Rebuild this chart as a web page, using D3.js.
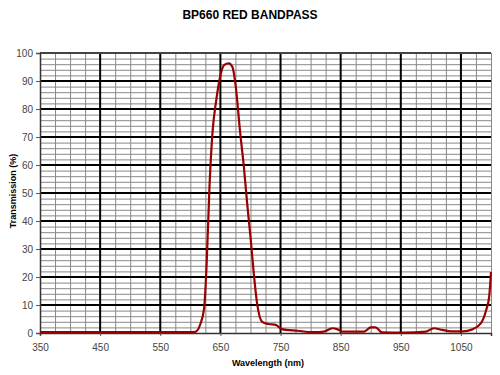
<!DOCTYPE html>
<html>
<head>
<meta charset="utf-8">
<script src="https://cdn.jsdelivr.net/npm/d3@7"></script>
<style>
  body { margin: 0; background: #fff; }
  .chart text { font-family: "Liberation Sans", Arial, sans-serif; }
</style>
</head>
<body>
<svg class="chart"></svg>
<script>
// data
const WAVELENGTH = [350, 400, 450, 500, 550, 600, 608, 617, 623, 627, 632, 637, 643, 650, 656, 664, 670, 675,
  683, 689, 694.5, 700, 705.5, 711, 719.5, 730, 742, 752, 778, 805, 822, 836, 845, 853, 889, 900, 908, 919,
  955, 992, 1005, 1019, 1033, 1053, 1069, 1083, 1092, 1097, 1100];
const TRANSMISSION = [0.3, 0.3, 0.3, 0.3, 0.3, 0.3, 0.4, 3.4, 9, 24, 53, 72, 83, 92, 95.7, 96.3, 95, 89,
  71.3, 59.4, 46.3, 34.4, 21.3, 10.6, 4, 3.2, 2.9, 1.4, 0.8, 0.3, 0.5, 1.7, 1.3, 0.5, 0.5, 2.0, 2.0, 0.2,
  0.1, 0.5, 1.7, 1.1, 0.6, 0.6, 1.3, 3.4, 8.2, 13, 21.8];
const X_TICKS = [350, 450, 550, 650, 750, 850, 950, 1050];
const Y_TICKS = [0, 10, 20, 30, 40, 50, 60, 70, 80, 90, 100];

const WIDTH = 500, HEIGHT = 375;
const MARGINS = { top: 53, right: 9, bottom: 42, left: 40 };
const PLOT_W = WIDTH - MARGINS.left - MARGINS.right;
const PLOT_H = HEIGHT - MARGINS.top - MARGINS.bottom;

const svg = d3.select(".chart").attr("width", WIDTH).attr("height", HEIGHT);

const X_fxn = d3.scaleLinear().domain([350, 1100]).range([0, PLOT_W]);
const Y_fxn = d3.scaleLinear().domain([0, 100]).range([PLOT_H, 0]);

const g = svg.append("g").attr("transform", `translate(${MARGINS.left},${MARGINS.top})`);

// minor grid
g.append("g").selectAll("line").data(d3.range(375, 1100, 25).filter(v => v % 100 !== 50))
  .join("line")
  .attr("x1", d => X_fxn(d) + 0.5).attr("x2", d => X_fxn(d) + 0.5)
  .attr("y1", 0).attr("y2", PLOT_H)
  .attr("stroke", "#888").attr("stroke-width", 1);
g.append("g").selectAll("line").data(d3.range(2, 100, 2).filter(v => v % 10 !== 0))
  .join("line")
  .attr("y1", d => Y_fxn(d) + 0.5).attr("y2", d => Y_fxn(d) + 0.5)
  .attr("x1", 0).attr("x2", PLOT_W)
  .attr("stroke", "#888").attr("stroke-width", 1);

// major grid
g.append("g").selectAll("line").data(X_TICKS.slice(1))
  .join("line")
  .attr("x1", d => X_fxn(d)).attr("x2", d => X_fxn(d))
  .attr("y1", 0).attr("y2", PLOT_H)
  .attr("stroke", "#000").attr("stroke-width", 2);
g.append("g").selectAll("line").data(Y_TICKS.slice(1, -1))
  .join("line")
  .attr("y1", d => Y_fxn(d)).attr("y2", d => Y_fxn(d))
  .attr("x1", 0).attr("x2", PLOT_W)
  .attr("stroke", "#000").attr("stroke-width", 2);

// frame
g.append("line").attr("x1", 0).attr("x2", PLOT_W).attr("y1", 0).attr("y2", 0)
  .attr("stroke", "#444").attr("stroke-width", 2);
g.append("line").attr("x1", PLOT_W + 0.5).attr("x2", PLOT_W + 0.5).attr("y1", 0).attr("y2", PLOT_H)
  .attr("stroke", "#888");

// axes
const xAxis = g.append("g").attr("transform", `translate(0,${PLOT_H})`)
  .call(d3.axisBottom(X_fxn).tickValues(X_TICKS).tickFormat(d3.format("d")).tickSize(3).tickPadding(8));
const yAxis = g.append("g")
  .call(d3.axisLeft(Y_fxn).tickValues(Y_TICKS).tickSize(4).tickPadding(3));
[xAxis, yAxis].forEach(a => {
  a.select(".domain").attr("stroke", "#333").attr("stroke-width", 1.5);
  a.selectAll(".tick line").attr("stroke", "#555");
  a.selectAll(".tick text").attr("fill", "#444").style("font-size", "10px");
});

// curve
const line_fxn = d3.line()
  .x((d, i) => X_fxn(WAVELENGTH[i]))
  .y(d => Y_fxn(d))
  .curve(d3.curveMonotoneX);
g.append("path").datum(TRANSMISSION)
  .attr("fill", "none").attr("stroke", "#990000").attr("stroke-width", 2.2)
  .attr("d", line_fxn);

// titles
svg.append("text").attr("x", 250).attr("y", 19).attr("text-anchor", "middle")
  .style("font-size", "12px").style("font-weight", "bold").text("BP660 RED BANDPASS");
svg.append("text").attr("x", 268).attr("y", 366).attr("text-anchor", "middle")
  .style("font-size", "9px").style("font-weight", "bold").text("Wavelength (nm)");
svg.append("text").attr("transform", `translate(16,${MARGINS.top + PLOT_H / 2 - 2}) rotate(-90)`)
  .attr("text-anchor", "middle")
  .style("font-size", "9px").style("font-weight", "bold").text("Transmission (%)");
</script>
</body>
</html>
